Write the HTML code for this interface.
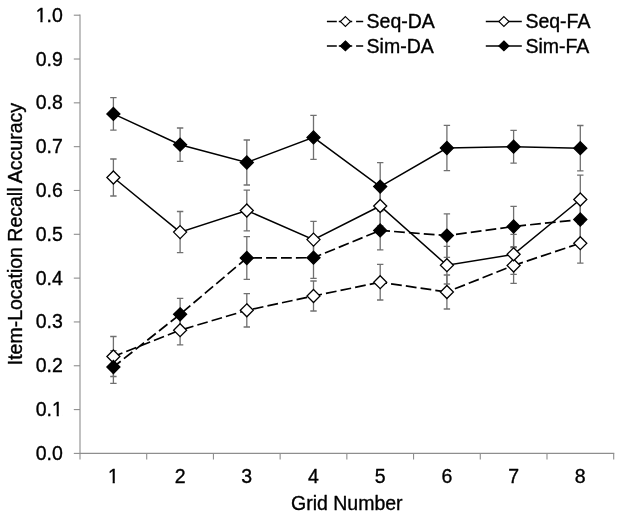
<!DOCTYPE html>
<html><head><meta charset="utf-8"><title>Item-Location Recall Accuracy</title>
<style>html,body{margin:0;padding:0;background:#fff}svg{display:block;will-change:transform;filter:grayscale(1)}text{font-family:"Liberation Sans",Arial,Helvetica,sans-serif;font-size:19.5px;fill:#000;stroke:#000;stroke-width:.35px;stroke-linejoin:round}</style></head><body>
<svg width="622" height="518" viewBox="0 0 622 518">
<rect width="622" height="518" fill="#fff"/>
<g stroke="#8e8e8e" stroke-width="1.1" fill="none">
<path d="M80.0 14.6V453.4H614.3"/>
<path d="M73.8 453.40H80.0"/>
<path d="M73.8 409.58H80.0"/>
<path d="M73.8 365.76H80.0"/>
<path d="M73.8 321.94H80.0"/>
<path d="M73.8 278.12H80.0"/>
<path d="M73.8 234.30H80.0"/>
<path d="M73.8 190.48H80.0"/>
<path d="M73.8 146.66H80.0"/>
<path d="M73.8 102.84H80.0"/>
<path d="M73.8 59.02H80.0"/>
<path d="M73.8 15.20H80.0"/>
<path d="M80.00 453.4V459.4"/>
<path d="M146.71 453.4V459.4"/>
<path d="M213.43 453.4V459.4"/>
<path d="M280.14 453.4V459.4"/>
<path d="M346.85 453.4V459.4"/>
<path d="M413.56 453.4V459.4"/>
<path d="M480.28 453.4V459.4"/>
<path d="M546.99 453.4V459.4"/>
<path d="M613.70 453.4V459.4"/>
</g>
<text x="62.8" y="459.9" text-anchor="end">0.0</text>
<text x="62.8" y="416.1" text-anchor="end">0.1</text>
<text x="62.8" y="372.3" text-anchor="end">0.2</text>
<text x="62.8" y="328.4" text-anchor="end">0.3</text>
<text x="62.8" y="284.6" text-anchor="end">0.4</text>
<text x="62.8" y="240.8" text-anchor="end">0.5</text>
<text x="62.8" y="197.0" text-anchor="end">0.6</text>
<text x="62.8" y="153.2" text-anchor="end">0.7</text>
<text x="62.8" y="109.3" text-anchor="end">0.8</text>
<text x="62.8" y="65.5" text-anchor="end">0.9</text>
<text x="62.8" y="21.7" text-anchor="end">1.0</text>
<text x="113.4" y="482.8" text-anchor="middle">1</text>
<text x="180.1" y="482.8" text-anchor="middle">2</text>
<text x="246.8" y="482.8" text-anchor="middle">3</text>
<text x="313.5" y="482.8" text-anchor="middle">4</text>
<text x="380.2" y="482.8" text-anchor="middle">5</text>
<text x="446.9" y="482.8" text-anchor="middle">6</text>
<text x="513.6" y="482.8" text-anchor="middle">7</text>
<text x="580.3" y="482.8" text-anchor="middle">8</text>
<path d="M36.39 19.8h4v3.2h-4zM42.54 19.8h4v3.2h-4z" fill="#fff"/>
<path d="M52.66 413.8h4v3.2h-4zM58.81 413.8h4v3.2h-4z" fill="#fff"/>
<path d="M108.64 480.8h4v3.2h-4zM114.79 480.8h4v3.2h-4z" fill="#fff"/>
<text x="346.8" y="509.6" text-anchor="middle">Grid Number</text>
<text transform="translate(22.2 234.1) rotate(-90)" text-anchor="middle">Item-Location Recall Accuracy</text>
<g stroke="#707070" stroke-width="1.3" fill="none">
<path d="M113.4 336.5V376.5M110.2 336.5h6.4M110.2 376.5h6.4"/>
<path d="M180.1 315.6V344.8M176.9 315.6h6.4M176.9 344.8h6.4"/>
<path d="M246.8 293.6V327.0M243.6 293.6h6.4M243.6 327.0h6.4"/>
<path d="M313.5 281.0V311.0M310.3 281.0h6.4M310.3 311.0h6.4"/>
<path d="M380.2 264.4V300.0M377.0 264.4h6.4M377.0 300.0h6.4"/>
<path d="M446.9 275.0V309.0M443.7 275.0h6.4M443.7 309.0h6.4"/>
<path d="M513.6 247.6V283.4M510.4 247.6h6.4M510.4 283.4h6.4"/>
<path d="M580.3 223.2V263.2M577.1 223.2h6.4M577.1 263.2h6.4"/>
<path d="M113.4 350.7V383.3M110.2 350.7h6.4M110.2 383.3h6.4"/>
<path d="M180.1 298.3V330.3M176.9 298.3h6.4M176.9 330.3h6.4"/>
<path d="M246.8 236.7V279.3M243.6 236.7h6.4M243.6 279.3h6.4"/>
<path d="M313.5 237.1V278.3M310.3 237.1h6.4M310.3 278.3h6.4"/>
<path d="M380.2 210.9V249.9M377.0 210.9h6.4M377.0 249.9h6.4"/>
<path d="M446.9 213.8V257.4M443.7 213.8h6.4M443.7 257.4h6.4"/>
<path d="M513.6 206.3V246.7M510.4 206.3h6.4M510.4 246.7h6.4"/>
<path d="M580.3 199.5V239.5M577.1 199.5h6.4M577.1 239.5h6.4"/>
<path d="M113.4 159.0V196.0M110.2 159.0h6.4M110.2 196.0h6.4"/>
<path d="M180.1 211.5V252.7M176.9 211.5h6.4M176.9 252.7h6.4"/>
<path d="M246.8 190.2V230.8M243.6 190.2h6.4M243.6 230.8h6.4"/>
<path d="M313.5 221.3V257.9M310.3 221.3h6.4M310.3 257.9h6.4"/>
<path d="M380.2 186.0V226.0M377.0 186.0h6.4M377.0 226.0h6.4"/>
<path d="M446.9 246.4V284.0M443.7 246.4h6.4M443.7 284.0h6.4"/>
<path d="M513.6 234.3V274.3M510.4 234.3h6.4M510.4 274.3h6.4"/>
<path d="M580.3 175.2V223.8M577.1 175.2h6.4M577.1 223.8h6.4"/>
<path d="M113.4 97.6V130.2M110.2 97.6h6.4M110.2 130.2h6.4"/>
<path d="M180.1 128.0V161.4M176.9 128.0h6.4M176.9 161.4h6.4"/>
<path d="M246.8 140.0V185.0M243.6 140.0h6.4M243.6 185.0h6.4"/>
<path d="M313.5 115.4V159.4M310.3 115.4h6.4M310.3 159.4h6.4"/>
<path d="M380.2 162.6V210.6M377.0 162.6h6.4M377.0 210.6h6.4"/>
<path d="M446.9 125.3V170.7M443.7 125.3h6.4M443.7 170.7h6.4"/>
<path d="M513.6 130.3V163.1M510.4 130.3h6.4M510.4 163.1h6.4"/>
<path d="M580.3 125.5V170.9M577.1 125.5h6.4M577.1 170.9h6.4"/>
</g>
<g fill="none" stroke="#000" stroke-width="1.7" stroke-dasharray="10.8 4.1">
<path d="M113.4 356.5L180.1 330.2" stroke-dashoffset="1.1"/>
<path d="M180.1 330.2L246.8 310.3" stroke-dashoffset="11.8"/>
<path d="M246.8 310.3L313.5 296.0" stroke-dashoffset="8.7"/>
<path d="M313.5 296.0L380.2 282.2" stroke-dashoffset="2.2"/>
<path d="M380.2 282.2L446.9 292.0" stroke-dashoffset="3.9"/>
<path d="M446.9 292.0L513.6 265.5" stroke-dashoffset="6.3"/>
<path d="M513.6 265.5L580.3 243.2" stroke-dashoffset="1.0"/>
</g>
<g fill="#fff" stroke="#000" stroke-width="1.3">
<path d="M113.4 350.0l6.5 6.5l-6.5 6.5l-6.5 -6.5z"/>
<path d="M180.1 323.7l6.5 6.5l-6.5 6.5l-6.5 -6.5z"/>
<path d="M246.8 303.8l6.5 6.5l-6.5 6.5l-6.5 -6.5z"/>
<path d="M313.5 289.5l6.5 6.5l-6.5 6.5l-6.5 -6.5z"/>
<path d="M380.2 275.7l6.5 6.5l-6.5 6.5l-6.5 -6.5z"/>
<path d="M446.9 285.5l6.5 6.5l-6.5 6.5l-6.5 -6.5z"/>
<path d="M513.6 259.0l6.5 6.5l-6.5 6.5l-6.5 -6.5z"/>
<path d="M580.3 236.7l6.5 6.5l-6.5 6.5l-6.5 -6.5z"/>
</g>
<g fill="none" stroke="#000" stroke-width="1.7" stroke-dasharray="10.8 4.1">
<path d="M113.4 367.0L180.1 314.3" stroke-dashoffset="1.5"/>
<path d="M180.1 314.3L246.8 258.0" stroke-dashoffset="12.3"/>
<path d="M246.8 258.0L313.5 257.7" stroke-dashoffset="10.5"/>
<path d="M313.5 257.7L380.2 230.4" stroke-dashoffset="2.5"/>
<path d="M380.2 230.4L446.9 235.6" stroke-dashoffset="1.0"/>
<path d="M446.9 235.6L513.6 226.5" stroke-dashoffset="5.7"/>
<path d="M513.6 226.5L580.3 219.5" stroke-dashoffset="13.2"/>
</g>
<g fill="#000" stroke="#000" stroke-width="1.3">
<path d="M113.4 360.5l6.5 6.5l-6.5 6.5l-6.5 -6.5z"/>
<path d="M180.1 307.8l6.5 6.5l-6.5 6.5l-6.5 -6.5z"/>
<path d="M246.8 251.5l6.5 6.5l-6.5 6.5l-6.5 -6.5z"/>
<path d="M313.5 251.2l6.5 6.5l-6.5 6.5l-6.5 -6.5z"/>
<path d="M380.2 223.9l6.5 6.5l-6.5 6.5l-6.5 -6.5z"/>
<path d="M446.9 229.1l6.5 6.5l-6.5 6.5l-6.5 -6.5z"/>
<path d="M513.6 220.0l6.5 6.5l-6.5 6.5l-6.5 -6.5z"/>
<path d="M580.3 213.0l6.5 6.5l-6.5 6.5l-6.5 -6.5z"/>
</g>
<polyline points="113.4,177.5 180.1,232.1 246.8,210.5 313.5,239.6 380.2,206.0 446.9,265.2 513.6,254.3 580.3,199.5" fill="none" stroke="#000" stroke-width="1.5"/>
<g fill="#fff" stroke="#000" stroke-width="1.3">
<path d="M113.4 171.0l6.5 6.5l-6.5 6.5l-6.5 -6.5z"/>
<path d="M180.1 225.6l6.5 6.5l-6.5 6.5l-6.5 -6.5z"/>
<path d="M246.8 204.0l6.5 6.5l-6.5 6.5l-6.5 -6.5z"/>
<path d="M313.5 233.1l6.5 6.5l-6.5 6.5l-6.5 -6.5z"/>
<path d="M380.2 199.5l6.5 6.5l-6.5 6.5l-6.5 -6.5z"/>
<path d="M446.9 258.7l6.5 6.5l-6.5 6.5l-6.5 -6.5z"/>
<path d="M513.6 247.8l6.5 6.5l-6.5 6.5l-6.5 -6.5z"/>
<path d="M580.3 193.0l6.5 6.5l-6.5 6.5l-6.5 -6.5z"/>
</g>
<polyline points="113.4,113.9 180.1,144.7 246.8,162.5 313.5,137.4 380.2,186.6 446.9,148.0 513.6,146.7 580.3,148.2" fill="none" stroke="#000" stroke-width="1.5"/>
<g fill="#000" stroke="#000" stroke-width="1.3">
<path d="M113.4 107.4l6.5 6.5l-6.5 6.5l-6.5 -6.5z"/>
<path d="M180.1 138.2l6.5 6.5l-6.5 6.5l-6.5 -6.5z"/>
<path d="M246.8 156.0l6.5 6.5l-6.5 6.5l-6.5 -6.5z"/>
<path d="M313.5 130.9l6.5 6.5l-6.5 6.5l-6.5 -6.5z"/>
<path d="M380.2 180.1l6.5 6.5l-6.5 6.5l-6.5 -6.5z"/>
<path d="M446.9 141.5l6.5 6.5l-6.5 6.5l-6.5 -6.5z"/>
<path d="M513.6 140.2l6.5 6.5l-6.5 6.5l-6.5 -6.5z"/>
<path d="M580.3 141.7l6.5 6.5l-6.5 6.5l-6.5 -6.5z"/>
</g>
<path d="M326.9 21.5H336.8M338.8 21.5H352.2M356.1 21.5H363.2" stroke="#000" stroke-width="1.5" fill="none"/>
<path d="M345.4 16.6l5.1 4.9l-5.1 4.9l-5.1 -4.9z" fill="#fff" stroke="#000" stroke-width="1.1"/>
<text x="366.6" y="28.1">Seq-DA</text>
<path d="M326.9 45.9H336.8M338.8 45.9H352.2M356.1 45.9H363.2" stroke="#000" stroke-width="1.5" fill="none"/>
<path d="M345.4 41.0l5.1 4.9l-5.1 4.9l-5.1 -4.9z" fill="#000" stroke="#000" stroke-width="1.1"/>
<text x="366.6" y="52.5">Sim-DA</text>
<path d="M485.8 21.5H521.8" stroke="#000" stroke-width="1.5" fill="none"/>
<path d="M503.9 16.6l5.1 4.9l-5.1 4.9l-5.1 -4.9z" fill="#fff" stroke="#000" stroke-width="1.1"/>
<text x="525.4" y="28.1">Seq-FA</text>
<path d="M485.8 45.9H521.8" stroke="#000" stroke-width="1.5" fill="none"/>
<path d="M503.9 41.0l5.1 4.9l-5.1 4.9l-5.1 -4.9z" fill="#000" stroke="#000" stroke-width="1.1"/>
<text x="525.4" y="52.5">Sim-FA</text>
</svg></body></html>
